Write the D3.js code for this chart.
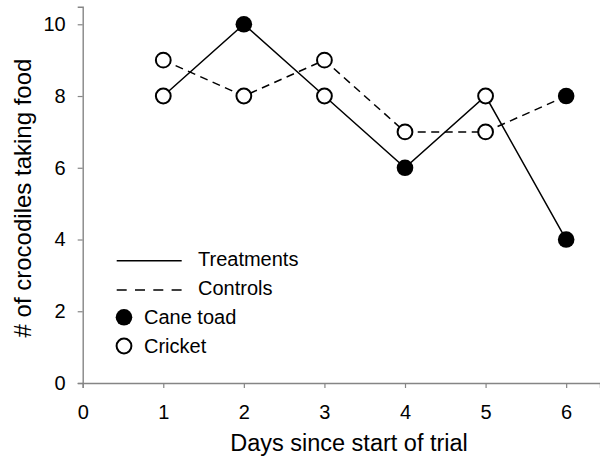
<!DOCTYPE html>
<html>
<head>
<meta charset="utf-8">
<script src="https://cdn.jsdelivr.net/npm/d3@7"></script>
<style>
  html, body { margin: 0; padding: 0; background: #fff; }
  svg { display: block; font-family: "Liberation Sans", Arial, sans-serif; }
</style>
</head>
<body>
<svg id="chart" width="600" height="461"></svg>
<script>
// ---- Data ----
const days = [1, 2, 3, 4, 5, 6];
const treatments = [8, 10, 8, 6, 8, 4];
const treatmentFood = ["Cricket", "Cane toad", "Cricket", "Cane toad", "Cricket", "Cane toad"];
const controls = [9, 8, 9, 7, 7, 8];
const controlFood = ["Cricket", "Cricket", "Cricket", "Cricket", "Cricket", "Cane toad"];
const xTicks = [0, 1, 2, 3, 4, 5, 6];
const yTicks = [0, 2, 4, 6, 8, 10];
const legendLines = ["Treatments", "Controls"];
const legendMarkers = ["Cane toad", "Cricket"];
const xTitle = "Days since start of trial";
const yTitle = "# of crocodiles taking food";

// ---- Layout ----
const svg = d3.select("#chart");
const x = d3.scaleLinear().domain([0, 6.42]).range([82.7, 600]);
const y = d3.scaleLinear().domain([0, 10.49]).range([383, 6.7]);
const axisColor = "#858585";

// X axis
const xAxis = svg.append("g")
  .attr("transform", `translate(0,${y(0)})`)
  .call(d3.axisBottom(x).tickValues(xTicks).tickFormat(d3.format("d")).tickSizeOuter(0).tickSize(5).tickPadding(17));
xAxis.select(".domain").attr("stroke", axisColor).attr("stroke-width", 1.4);
xAxis.selectAll(".tick line").attr("stroke", axisColor).attr("stroke-width", 1.2);
xAxis.selectAll(".tick text").attr("font-size", 20).attr("fill", "#000")
  .attr("font-family", "Liberation Sans, Arial, sans-serif");

// Y axis
const yAxis = svg.append("g")
  .attr("transform", `translate(${x(0)},0)`)
  .call(d3.axisLeft(y).tickValues(yTicks).tickFormat(d3.format("d")).tickSizeOuter(0).tickSize(5).tickPadding(12));
yAxis.select(".domain").attr("stroke", axisColor).attr("stroke-width", 1.4);
yAxis.selectAll(".tick line").attr("stroke", axisColor).attr("stroke-width", 1.2);
yAxis.selectAll(".tick text").attr("font-size", 20).attr("fill", "#000")
  .attr("font-family", "Liberation Sans, Arial, sans-serif");

// Titles
svg.append("text")
  .attr("x", 349).attr("y", 450.7)
  .attr("text-anchor", "middle")
  .attr("font-size", 23.5)
  .text(xTitle);
svg.append("text")
  .attr("transform", `translate(31,198) rotate(-90)`)
  .attr("text-anchor", "middle")
  .attr("font-size", 24)
  .text(yTitle);

// Lines
const line = d3.line().x(d => x(d[0])).y(d => y(d[1]));
const tData = days.map((d, i) => [d, treatments[i], treatmentFood[i]]);
const cData = days.map((d, i) => [d, controls[i], controlFood[i]]);

svg.append("path").datum(cData)
  .attr("d", line).attr("fill", "none").attr("stroke", "#000")
  .attr("stroke-width", 1.5).attr("stroke-dasharray", "8,5.5");
svg.append("path").datum(tData)
  .attr("d", line).attr("fill", "none").attr("stroke", "#000")
  .attr("stroke-width", 1.5);

// Markers
function drawMarkers(data) {
  svg.append("g").selectAll("circle").data(data).join("circle")
    .attr("cx", d => x(d[0])).attr("cy", d => y(d[1]))
    .attr("r", d => d[2] === "Cane toad" ? 8.3 : 7.4)
    .attr("fill", d => d[2] === "Cane toad" ? "#000" : "#fff")
    .attr("stroke", "#000")
    .attr("stroke-width", d => d[2] === "Cane toad" ? 0 : 2);
}
drawMarkers(cData);
drawMarkers(tData);

// Legend
const lg = svg.append("g").attr("font-size", 20);
const lineY = [260.7, 290];
legendLines.forEach((name, i) => {
  lg.append("line")
    .attr("x1", 116.7).attr("x2", 181.7)
    .attr("y1", lineY[i]).attr("y2", lineY[i])
    .attr("stroke", "#000").attr("stroke-width", 1.5)
    .attr("stroke-dasharray", i === 1 ? "10,8.3" : null);
  lg.append("text").attr("x", 198).attr("y", lineY[i] + 4.8).text(name);
});
const markY = [317.3, 346];
legendMarkers.forEach((name, i) => {
  lg.append("circle")
    .attr("cx", 124).attr("cy", markY[i])
    .attr("r", i === 0 ? 8.3 : 7.4)
    .attr("fill", i === 0 ? "#000" : "#fff")
    .attr("stroke", "#000").attr("stroke-width", i === 0 ? 0 : 2);
  lg.append("text").attr("x", 144).attr("y", markY[i] + 6.7).text(name);
});
</script>
</body>
</html>
